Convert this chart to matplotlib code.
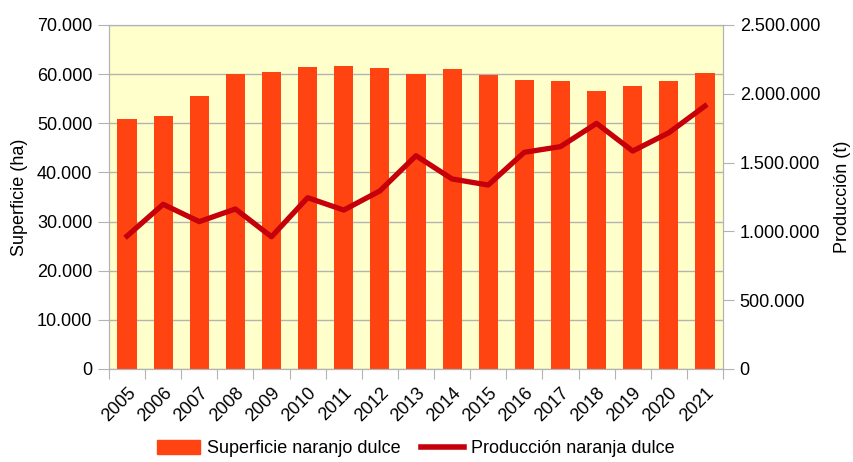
import matplotlib.pyplot as plt
from matplotlib.ticker import FuncFormatter
from matplotlib.patches import Patch
from matplotlib.lines import Line2D

plt.rcParams['font.family'] = ['Liberation Sans', 'DejaVu Sans']

years = ['2005', '2006', '2007', '2008', '2009', '2010', '2011', '2012', '2013',
         '2014', '2015', '2016', '2017', '2018', '2019', '2020', '2021']
superficie = [50900, 51500, 55600, 60000, 60400, 61400, 61700, 61250, 60000,
              61050, 59850, 58800, 58600, 56600, 57600, 58600, 60250]
produccion = [966000, 1197000, 1071000, 1163000, 961000, 1245000, 1155000, 1294000, 1550000,
              1381000, 1337000, 1575000, 1616000, 1785000, 1584000, 1717000, 1911000]

bar_color = '#ff4411'
line_color = '#c5000b'
grid_color = '#b3b3b3'

def miles(v, pos):
    return f'{int(v):,}'.replace(',', '.')

fig = plt.figure(figsize=(8.54, 4.62), dpi=100)
ax = fig.add_axes([0.1276, 0.2013, 0.719, 0.7446])
ax.set_facecolor('#ffffcc')

x = list(range(len(years)))
ax.bar(x, superficie, width=0.53, color=bar_color, zorder=2)
ax.set_xlim(-0.5, len(years) - 0.5)
ax.set_ylim(0, 70000)
ax.set_yticks(range(0, 70001, 10000))
ax.yaxis.set_major_formatter(FuncFormatter(miles))
ax.grid(axis='y', color=grid_color, lw=1, zorder=1)
ax.set_axisbelow(True)
ax.set_xticks([i - 0.5 for i in x] + [len(years) - 0.5], minor=False)
ax.set_xticklabels([''] * (len(years) + 1))
ax.set_xticks(x, minor=True)
ax.set_xticklabels(years, minor=True, rotation=45, ha='right', rotation_mode='anchor', fontsize=13)
ax.tick_params(axis='x', which='minor', length=0, pad=11)
ax.tick_params(axis='x', which='major', length=7, color=grid_color)
ax.tick_params(axis='y', length=8, color=grid_color, labelsize=13, pad=4)
ax.set_ylabel('Superficie (ha)', fontsize=13, labelpad=6)
for s in ax.spines.values():
    s.set_color(grid_color)

ax2 = ax.twinx()
ax2.plot(x, produccion, color=line_color, lw=3.8, zorder=3)
ax2.set_ylim(0, 2500000)
ax2.set_yticks(range(0, 2500001, 500000))
ax2.yaxis.set_major_formatter(FuncFormatter(miles))
ax2.tick_params(axis='y', length=8, color=grid_color, labelsize=13, pad=4)
ax2.set_ylabel('Producción (t)', fontsize=13, labelpad=10)
for s in ax2.spines.values():
    s.set_color(grid_color)

handles = [Patch(color=bar_color, label='Superficie naranjo dulce'),
           Line2D([0], [0], color=line_color, lw=4, label='Producción naranja dulce')]
fig.legend(handles=handles, loc='lower center', bbox_to_anchor=(0.487, -0.025), ncol=2,
           frameon=False, fontsize=13, handlelength=2.4, handleheight=0.8,
           columnspacing=1.1, handletextpad=0.4)

plt.savefig('out.png', dpi=100)
